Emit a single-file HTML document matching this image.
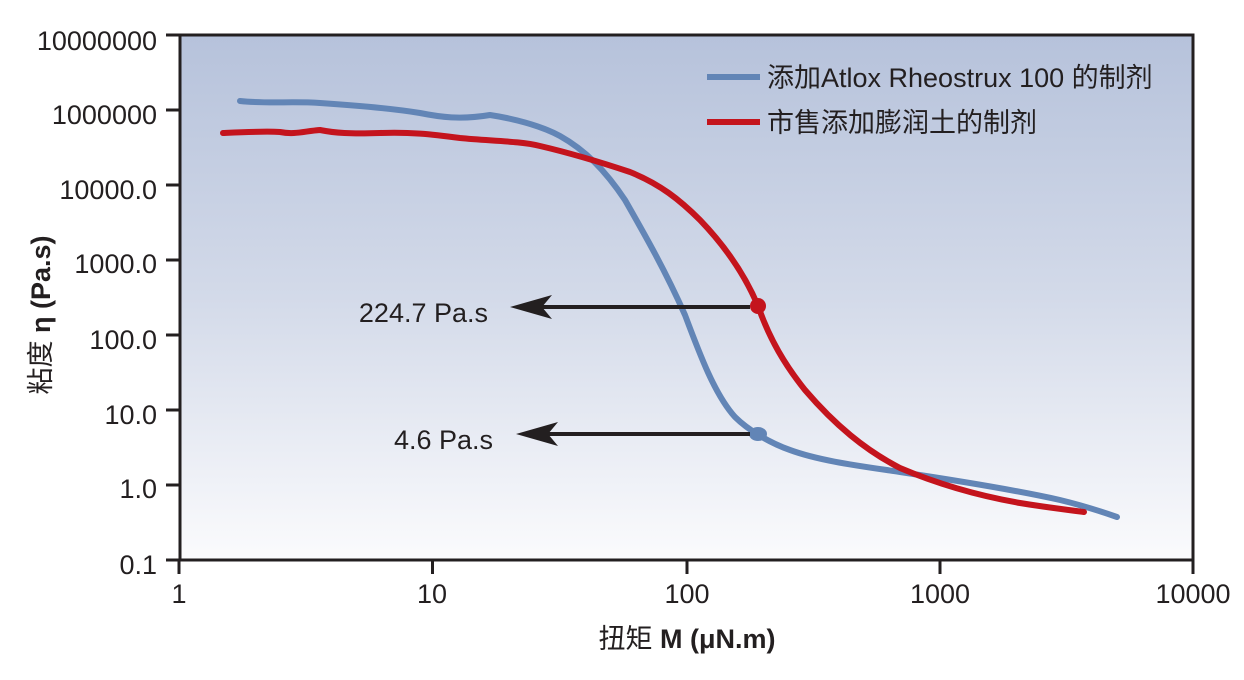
<!DOCTYPE html>
<html><head><meta charset="utf-8"><style>
body{margin:0;background:#fff;}
svg text{font-family:"Liberation Sans","Noto Sans CJK SC",sans-serif;fill:#231f20;}
</style></head><body>
<svg width="1244" height="675" viewBox="0 0 1244 675" xmlns="http://www.w3.org/2000/svg">
<defs><linearGradient id="g" x1="0" y1="0" x2="0" y2="1">
<stop offset="0" stop-color="#b6c2db"/><stop offset="0.5" stop-color="#d3dae9"/><stop offset="1" stop-color="#fbfbfd"/></linearGradient></defs>
<rect x="180" y="35" width="1013" height="525" fill="url(#g)"/>
<g stroke="#231f20" stroke-width="3" fill="none">
<path d="M180 35H1193V560H180Z"/>
<path d="M166 35H180M166 110H180M166 185H180M166 260H180M166 335H180M166 410H180M166 485H180M166 560H180"/>
<path d="M179 560V574M432.5 560V574M687 560V574M940 560V574M1193 560V574"/>
</g>
<g font-size="27" text-anchor="end">
<text x="157" y="50">10000000</text><text x="157" y="124">1000000</text>
<text x="157" y="199">10000.0</text><text x="157" y="273">1000.0</text>
<text x="157" y="349">100.0</text><text x="157" y="424">10.0</text>
<text x="157" y="498">1.0</text><text x="157" y="574">0.1</text>
</g>
<g font-size="27" text-anchor="middle">
<text x="179" y="603">1</text><text x="432" y="603">10</text><text x="687" y="603">100</text>
<text x="940" y="603">1000</text><text x="1193" y="603">10000</text>
<text x="687" y="648">扭矩 <tspan font-weight="bold">M (μN.m)</tspan></text>
</g>
<text transform="translate(50,315) rotate(-90)" font-size="27" text-anchor="middle">粘度 <tspan font-weight="bold">η (Pa.s)</tspan></text>
<path fill="none" stroke="#6285b6" stroke-width="6" stroke-linecap="round" stroke-linejoin="round" d="M240 101 C270 104 290 101 320 103 C350 105 390 108 420 113 C440 117 460 120 490 115 C510 118 540 125 560 136 C585 150 605 170 625 200 C645 235 665 270 685 315 C700 355 715 395 735 417 C748 430 770 443 790 450 C820 461 860 466 900 472 C960 481 1020 491 1060 500 C1085 506 1100 511 1117 517"/>
<path fill="none" stroke="#c4141d" stroke-width="6" stroke-linecap="round" stroke-linejoin="round" d="M223 133 C245 132 265 131 280 132 C295 135 305 131 320 130 C335 133 350 134 380 133 C410 132 430 134 460 138 C490 141 520 141 540 146 C570 153 600 162 630 172 C660 184 680 200 700 220 C725 246 745 275 758 306 C770 340 785 365 805 390 C835 425 865 450 900 468 C940 485 980 496 1020 503 C1050 508 1070 510 1084 512"/>
<circle cx="758" cy="306" r="8" fill="#c4141d"/>
<ellipse cx="758" cy="434" rx="9" ry="7" fill="#6285b6"/>
<g stroke="#231f20" stroke-width="4"><path d="M540 307H750M546 434H750"/></g>
<path d="M510 307L552 295L542 307L552 319Z" fill="#231f20"/>
<path d="M516 434L558 422L548 434L558 446Z" fill="#231f20"/>
<g font-size="27" text-anchor="end"><text x="488" y="322">224.7 Pa.s</text><text x="493" y="449">4.6 Pa.s</text></g>
<path d="M707 77H760" stroke="#6285b6" stroke-width="6"/>
<path d="M707 122H760" stroke="#c4141d" stroke-width="6"/>
<g font-size="27"><text x="767" y="87">添加Atlox Rheostrux 100 的制剂</text><text x="767" y="132">市售添加膨润土的制剂</text></g>
</svg>
</body></html>
